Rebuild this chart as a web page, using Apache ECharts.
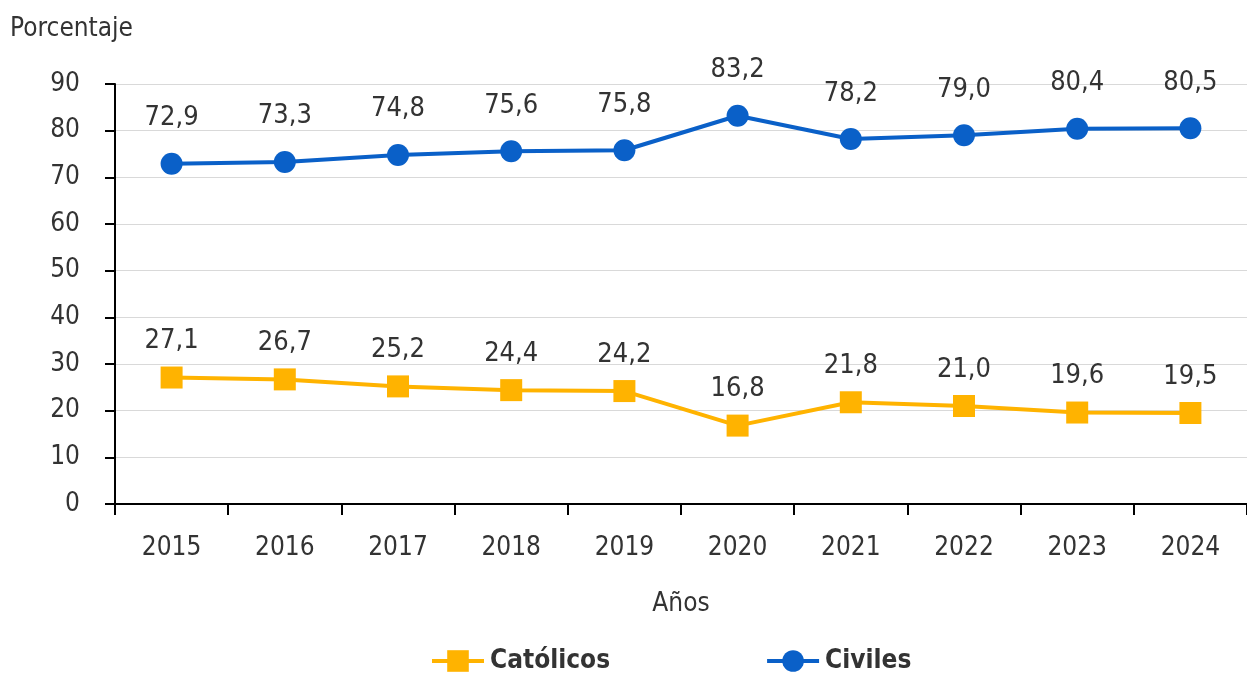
<!DOCTYPE html>
<html lang="es">
<head>
    <meta charset="UTF-8">
    <title>Porcentaje</title>
    <script src="https://cdn.jsdelivr.net/npm/echarts@6/dist/echarts.min.js"></script>
    <style>
        html, body { margin: 0; padding: 0; background: #fff; }
    </style>
</head>
<body>
<div id="main" style="width:1247px;height:675px;"></div>

<script type="text/javascript">
    var years = ['2015', '2016', '2017', '2018', '2019', '2020', '2021', '2022', '2023', '2024'];
    var catolicos = [27.1, 26.7, 25.2, 24.4, 24.2, 16.8, 21.8, 21.0, 19.6, 19.5];
    var civiles = [72.9, 73.3, 74.8, 75.6, 75.8, 83.2, 78.2, 79.0, 80.4, 80.5];

    var font = '"DejaVu Sans Condensed", "Liberation Sans Narrow", "Noto Sans", sans-serif';
    var txt = '#333333';

    var myChart = echarts.init(document.getElementById('main'));

    function fmt(p) {
        return p.value.toFixed(1).replace('.', ',');
    }

    var option = {
        animation: false,
        textStyle: { fontFamily: font },
        grid: {
            left: 115,
            right: 0,
            top: 84,
            bottom: 171
        },
        legend: {
            top: 643,
            left: 425,
            itemGap: 155,
            itemWidth: 52,
            itemHeight: 27,
            lineStyle: { width: 4 },
            textStyle: { fontFamily: font, fontSize: 26, fontWeight: 'bold', color: txt, padding: [0, 0, 0, 1] },
            data: ['Católicos', 'Civiles']
        },
        xAxis: {
            type: 'category',
            data: years,
            name: 'Años',
            nameLocation: 'middle',
            nameGap: 87,
            nameTextStyle: { fontFamily: font, fontSize: 26, color: txt },
            axisLine: { lineStyle: { color: '#000', width: 2 } },
            axisTick: { show: true, length: 11, lineStyle: { color: '#000', width: 2 } },
            axisLabel: { fontFamily: font, fontSize: 26, color: txt, margin: 31 }
        },
        yAxis: {
            type: 'value',
            min: 0,
            max: 90,
            interval: 10,
            name: 'Porcentaje',
            nameLocation: 'end',
            nameGap: 42,
            nameTextStyle: { fontFamily: font, fontSize: 26, color: txt, align: 'left', padding: [0, 0, 0, -105] },
            axisLine: { show: true, lineStyle: { color: '#000', width: 2 } },
            axisTick: { show: true, length: 10, lineStyle: { color: '#000', width: 2 } },
            axisLabel: { fontFamily: font, fontSize: 26, color: txt, margin: 35 },
            splitLine: { lineStyle: { color: '#d9d9d9', width: 1 } }
        },
        series: [
            {
                name: 'Católicos',
                type: 'line',
                data: catolicos,
                symbol: 'rect',
                symbolSize: 22,
                itemStyle: { color: '#FFB300' },
                lineStyle: { color: '#FFB300', width: 4 },
                label: {
                    show: true,
                    position: 'top',
                    distance: 12,
                    formatter: fmt,
                    fontFamily: font,
                    fontSize: 27,
                    color: txt
                }
            },
            {
                name: 'Civiles',
                type: 'line',
                data: civiles,
                symbol: 'circle',
                symbolSize: 22,
                itemStyle: { color: '#0A60C8' },
                lineStyle: { color: '#0A60C8', width: 4 },
                label: {
                    show: true,
                    position: 'top',
                    distance: 21,
                    formatter: fmt,
                    fontFamily: font,
                    fontSize: 27,
                    color: txt
                }
            }
        ]
    };

    myChart.setOption(option);
</script>
</body>
</html>
